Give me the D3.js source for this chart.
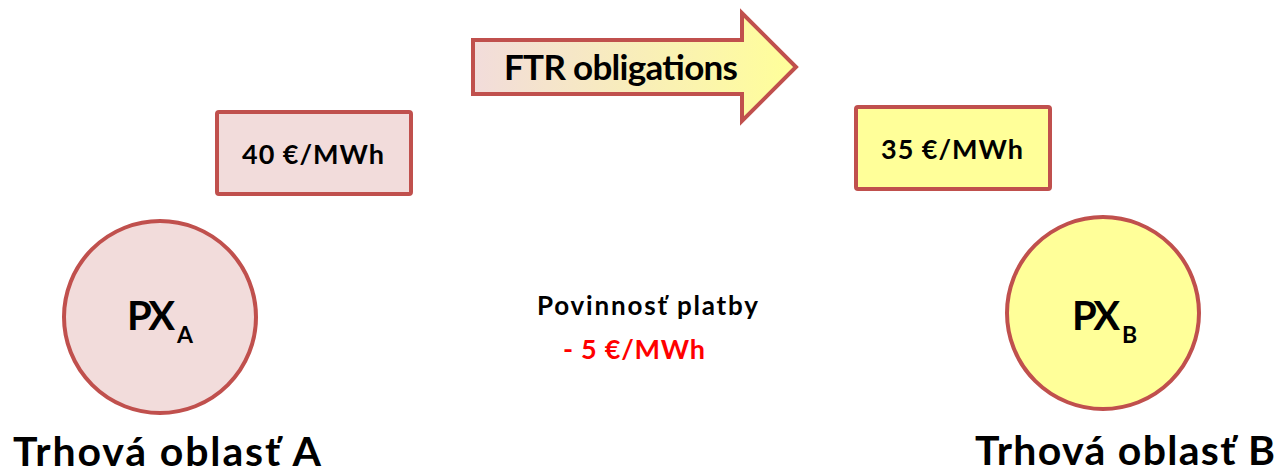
<!DOCTYPE html>
<html>
<head>
<meta charset="utf-8">
<script src="https://cdn.jsdelivr.net/npm/d3@7"></script>
<style>
  html, body { margin: 0; padding: 0; background: #fff; }
  svg { display: block; }
</style>
</head>
<body>
<svg id="chart" width="1282" height="471"></svg>
<script>
// Market areas (left → right)
const areas = ['A', 'B'];
const areaNames = ['Trhová oblasť A', 'Trhová oblasť B'];
const prices = [40, 35];               // €/MWh in each area
const priceLabels = prices.map(p => `${p} €/MWh`);
const arrowLabel = 'FTR obligations';
const paymentTitle = 'Povinnosť platby';
const paymentValue = prices[1] - prices[0];   // -5

const FONT = 'Lato, "Open Sans", sans-serif';
const C = { border: '#c0504d', pink: '#f2dcdb', yellow: '#ffff99', red: '#ff0000', text: '#000' };
const fills = [C.pink, C.yellow];

const svg = d3.select('#chart');

// Horizontal layout: circles, price boxes
const xCircle = d3.scalePoint().domain(areas).range([160, 1103]);
const xBox = d3.scalePoint().domain(areas).range([314, 953]);
const yCircle = d3.scaleOrdinal().domain(areas).range([317, 313]);
const yBox = d3.scaleOrdinal().domain(areas).range([112, 107]);
const BOX_W = 194, BOX_H = 82, R = 96;

// text helper: start-anchored, stretched to a target width
function label(sel, { x, y, w, size, fill = C.text }) {
  const t = sel.append('text')
    .attr('x', x).attr('y', y)
    .style('font-family', FONT).style('font-weight', 700).style('font-size', `${size}px`)
    .style('fill', fill);
  if (w) t.attr('textLength', w).attr('lengthAdjust', 'spacing');
  return t;
}

// Gradient for the arrow
const defs = svg.append('defs');
const grad = defs.append('linearGradient').attr('id', 'arrowGrad')
  .attr('x1', '0%').attr('x2', '100%').attr('y1', '0%').attr('y2', '0%');
grad.append('stop').attr('offset', '0%').attr('stop-color', C.pink);
grad.append('stop').attr('offset', '100%').attr('stop-color', C.yellow);

// Arrow
const ax0 = 473, ax1 = 742, axTip = 796, ayMid = 67, shaftHalf = 27, headHalf = 54;
const arrowPts = [
  [ax0, ayMid - shaftHalf], [ax1, ayMid - shaftHalf], [ax1, ayMid - headHalf],
  [axTip, ayMid], [ax1, ayMid + headHalf], [ax1, ayMid + shaftHalf], [ax0, ayMid + shaftHalf]
];
svg.append('path')
  .attr('d', d3.line()(arrowPts) + 'Z')
  .style('fill', 'url(#arrowGrad)')
  .style('stroke', C.border).style('stroke-width', 4)
  .style('stroke-linejoin', 'miter');
label(svg, { x: 504, y: 80, w: 234, size: 35 }).text(arrowLabel);

// Price boxes
areas.forEach((a, i) => {
  svg.append('rect')
    .attr('x', xBox(a) - BOX_W / 2).attr('y', yBox(a))
    .attr('width', BOX_W).attr('height', BOX_H)
    .attr('rx', 2)
    .style('fill', fills[i])
    .style('stroke', C.border).style('stroke-width', 4);
  label(svg, { x: xBox(a) - 72, y: yBox(a) + 52, w: 142, size: 27 }).text(priceLabels[i]);
});

// Power exchange circles
areas.forEach((a, i) => {
  svg.append('circle')
    .attr('cx', xCircle(a)).attr('cy', yCircle(a))
    .attr('r', R)
    .style('fill', fills[i])
    .style('stroke', C.border).style('stroke-width', 4);
  const x0 = xCircle(a) - (i === 0 ? 33 : 31);
  label(svg, { x: x0, y: 330, w: 48, size: 40 }).text('PX');
  label(svg, { x: x0 + 50, y: 343, size: 23 }).text(a);
});

// Area names
label(svg, { x: 13, y: 466, w: 308, size: 41 }).text(areaNames[0]);
label(svg, { x: 975, y: 465, w: 300, size: 41 }).text(areaNames[1]);

// Payment obligation
label(svg, { x: 537, y: 315, w: 221, size: 26 }).text(paymentTitle);
label(svg, { x: 563, y: 359, w: 142, size: 27, fill: C.red }).text(`- ${Math.abs(paymentValue)} €/MWh`);
</script>
</body>
</html>
